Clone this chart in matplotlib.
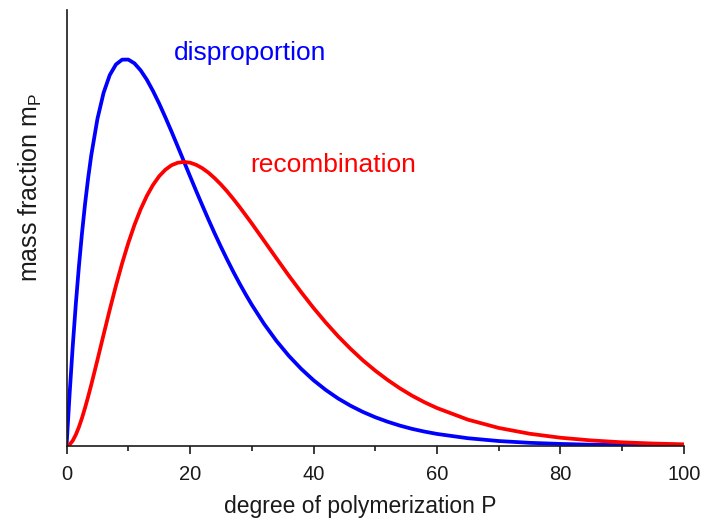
import numpy as np
import matplotlib
matplotlib.use("Agg")
import matplotlib.pyplot as plt
from matplotlib.ticker import MultipleLocator

plt.rcParams["font.family"] = ["Liberation Sans", "DejaVu Sans"]

# degree of polymerization P and mass fraction (%)
P = [0, 0.5, 1, 1.5, 2, 2.5, 3, 3.5, 4, 5, 6, 7, 8, 9, 10, 11, 12, 13, 14,
     15, 16, 17, 18, 19, 20, 21, 22, 23, 24, 25, 26, 27, 28, 29, 30, 32, 34,
     36, 38, 40, 42, 44, 46, 48, 50, 52, 54, 56, 58, 60, 65, 70, 75, 80, 85,
     90, 95, 100]

disproportion = [0.0, 0.525, 0.996, 1.418, 1.794, 2.127, 2.422, 2.680, 2.906,
                 3.270, 3.532, 3.709, 3.815, 3.863, 3.864, 3.826, 3.756,
                 3.663, 3.550, 3.424, 3.287, 3.144, 2.996, 2.847, 2.697,
                 2.549, 2.404, 2.262, 2.124, 1.992, 1.865, 1.743, 1.627,
                 1.517, 1.412, 1.220, 1.050, 0.901, 0.771, 0.657, 0.559,
                 0.474, 0.402, 0.340, 0.287, 0.242, 0.203, 0.170, 0.143,
                 0.120, 0.077, 0.049, 0.031, 0.020, 0.012, 0.008, 0.005,
                 0.003]

recombination = [0.0, 0.014, 0.052, 0.112, 0.188, 0.279, 0.382, 0.493, 0.611,
                 0.859, 1.113, 1.363, 1.603, 1.826, 2.029, 2.210, 2.367,
                 2.500, 2.610, 2.697, 2.762, 2.807, 2.832, 2.840, 2.833,
                 2.811, 2.777, 2.732, 2.677, 2.615, 2.546, 2.471, 2.392,
                 2.309, 2.225, 2.051, 1.876, 1.703, 1.538, 1.380, 1.233,
                 1.096, 0.971, 0.856, 0.753, 0.660, 0.576, 0.501, 0.436,
                 0.379, 0.263, 0.180, 0.122, 0.082, 0.055, 0.036, 0.024,
                 0.016]

fig = plt.figure(figsize=(7.08, 5.24), dpi=100)
ax = fig.add_axes([0.094, 0.149, 0.872, 0.832])

ax.plot(P, disproportion, color="#0000ff", linewidth=2.7, solid_joinstyle="round")
ax.plot(P, recombination, color="#ff0000", linewidth=2.7, solid_joinstyle="round")

ax.set_xlim(0, 100)
ax.set_ylim(0, 4.36)

for side in ["top", "right"]:
    ax.spines[side].set_visible(False)
for side in ["left", "bottom"]:
    ax.spines[side].set_linewidth(1.2)
    ax.spines[side].set_color("#1a1a1a")

ax.set_yticks([])
ax.xaxis.set_major_locator(MultipleLocator(20))
ax.xaxis.set_minor_locator(MultipleLocator(10))
ax.tick_params(axis="x", which="major", direction="out", length=6, width=1.2,
               labelsize=14.5, pad=8, color="#1a1a1a", labelcolor="#1a1a1a")
ax.tick_params(axis="x", which="minor", direction="out", length=3.5, width=1.2,
               color="#1a1a1a")

ax.set_xlabel("degree of polymerization P", fontsize=16.5, color="#1a1a1a")
ax.xaxis.set_label_coords(0.475, -0.112)
ax.set_ylabel(r"mass fraction m$_{\mathregular{P}}$", fontsize=18,
              color="#1a1a1a")
ax.yaxis.set_label_coords(-0.036, 0.594)

ax.text(17.4, 3.93, "disproportion", color="#0000ff", fontsize=19,
        ha="left", va="center")
ax.text(29.7, 2.81, "recombination", color="#ff0000", fontsize=19,
        ha="left", va="center")

fig.savefig("out.png", dpi=100)
